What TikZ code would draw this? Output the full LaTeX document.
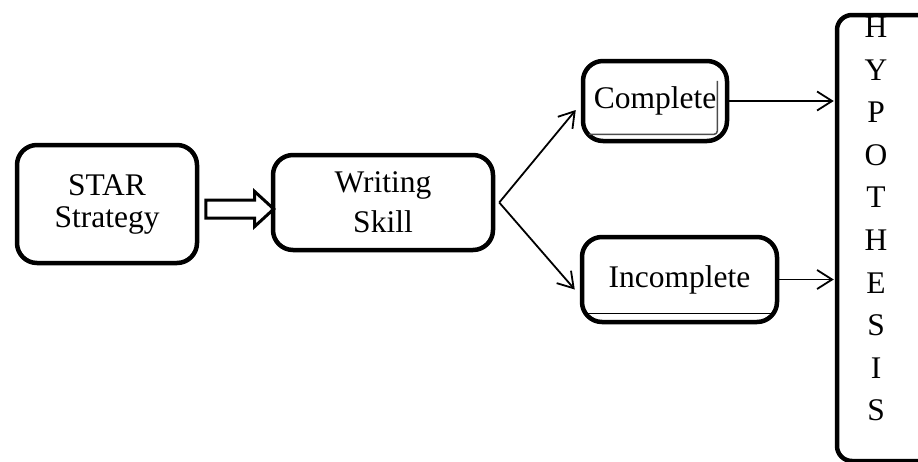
\documentclass[tikz,border=0pt]{standalone}
\usepackage{fontspec}
\setmainfont{Liberation Serif}
\usetikzlibrary{arrows.meta,shapes.arrows,positioning}

\begin{document}
\begin{tikzpicture}[x=1pt,y=-1pt,
                    box/.style={draw,line width=4.5pt,rounded corners=20pt,align=center,inner sep=0pt},
                    thin arrow/.style={line width=1.8pt,-{Straight Barb[length=15pt,width=19pt]}}]
                    \useasboundingbox (0,0) rectangle (918,461);
                    \clip (0,0) rectangle (918,461);
                    \node[box,minimum width=180pt,minimum height=118pt,font=\fontsize{31.5}{32}\selectfont] (star node) at (107,204) {STAR\\Strategy};
                    \node[box,minimum width=220pt,minimum height=95pt,font=\fontsize{31.5}{40}\selectfont] (skill node) at (383,202.5) {Writing\\Skill};
                    \node[single arrow,draw,line width=3pt,minimum height=68pt,inner xsep=0pt,inner ysep=7.5pt,
                          single arrow head extend=8.5pt,single arrow tip angle=85,
                          right=5pt of star node,yshift=-5pt] (block arrow) {};
                    \node[box,minimum width=144pt,minimum height=80pt,font=\fontsize{31.5}{36}\selectfont] (complete node) at (655,101) {Complete};
                    \node[box,minimum width=195pt,minimum height=85pt,font=\fontsize{31.5}{36}\selectfont] (incomplete node) at (679.5,279.5) {Incomplete};
                    \node[box,minimum width=130pt,minimum height=446pt,rounded corners=15pt] (hyp node) at (902,238) {};
                    \node[font=\fontsize{31.5}{42.6}\selectfont,align=center,inner sep=0pt] (hyp text) at (876,219) {H\\Y\\P\\O\\T\\H\\E\\S\\I\\S};
                    % inner frames
                    \draw[line width=1.5pt,gray!60!black,rounded corners=3pt] ([xshift=-12pt,yshift=-22pt]complete node.north east)
                        -- ([xshift=-12pt,yshift=9pt]complete node.south east) -- ([xshift=8pt,yshift=9pt]complete node.south west);
                    \draw[line width=1.2pt] ([xshift=8pt,yshift=11pt]incomplete node.south west) -- ([xshift=-8pt,yshift=11pt]incomplete node.south east);
                    \coordinate (fork) at ([xshift=4pt]skill node.east);
                    \draw[thin arrow] (fork) -- ([xshift=-5pt,yshift=-9pt]complete node.west);
                    \draw[thin arrow] (fork) -- ([xshift=-5pt,yshift=-10pt]incomplete node.west);
                    \draw[thin arrow,shorten >=1pt] (complete node.east) -- (complete node.east -| hyp node.west);
                    \draw[thin arrow,shorten >=1pt] (incomplete node.east) -- (incomplete node.east -| hyp node.west);

                \end{tikzpicture}
\end{document}
